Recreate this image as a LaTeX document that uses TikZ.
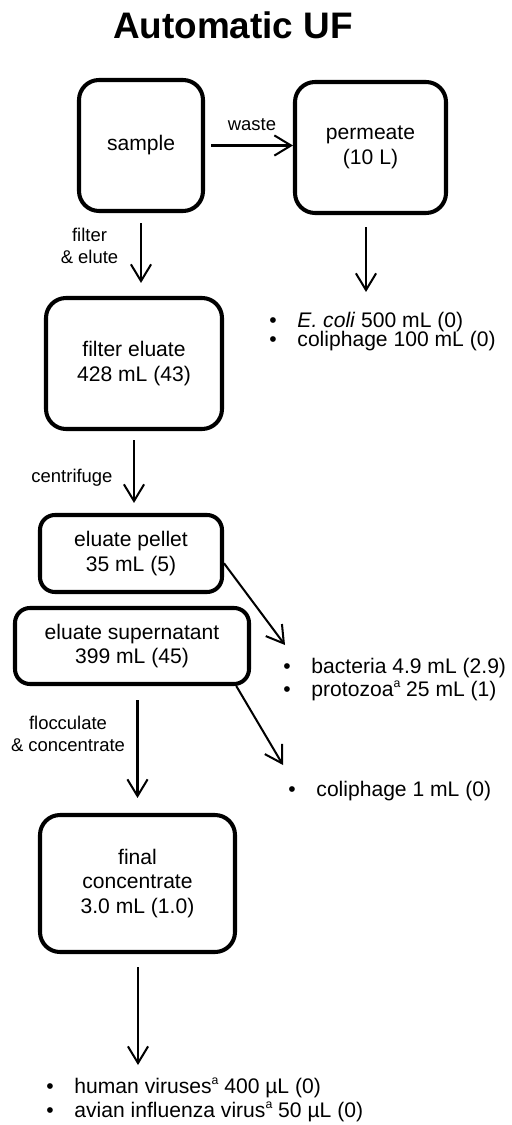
\documentclass[tikz,border=0pt]{standalone}
\usepackage{fontspec}
\setmainfont{Liberation Sans}
\usetikzlibrary{arrows.meta}
\newcommand{\itembullet}{\makebox[16pt][l]{\textbullet}}
\newcommand{\supa}{\raisebox{0.42em}{\fontsize{7}{7}\selectfont a}}
\tikzset{
  stage/.style={draw, line width=2.3pt, rounded corners=0.4cm, align=center,
    font=\fontsize{12}{14}\selectfont},
  flow/.style={-{Straight Barb[length=9.5pt,width=11.5pt]}, line width=1.15pt},
  steplabel/.style={align=center, font=\fontsize{10.5}{12.5}\selectfont},
  itemlist/.style={anchor=north west, align=left, inner sep=0pt,
    font=\fontsize{12}{13.2}\selectfont}
}
\begin{document}
\begin{tikzpicture}
\useasboundingbox (0,0) rectangle (10.22,-22.5);
\node[font=\bfseries\fontsize{21}{25}\selectfont] (title) at (4.66,-0.50) {Automatic UF};
\node[stage, minimum width=2.48cm, minimum height=2.62cm] (sample) at (2.82,-2.91) {sample};
\node[stage, minimum width=3.02cm, minimum height=2.62cm] (permeate) at (7.41,-2.95) {permeate\\(10 L)};
\node[stage, minimum width=3.52cm, minimum height=2.62cm] (eluate) at (2.68,-7.27) {filter eluate\\428 mL (43)};
\node[stage, minimum width=3.64cm, minimum height=1.54cm, rounded corners=0.3cm] (pellet) at (2.62,-11.07) {eluate pellet\\35 mL (5)};
\node[stage, minimum width=4.68cm, minimum height=1.52cm, rounded corners=0.3cm] (super) at (2.64,-12.92) {eluate supernatant\\399 mL (45)};
\node[stage, minimum width=3.9cm, minimum height=2.74cm] (final) at (2.75,-17.67) {final\\concentrate\\3.0 mL (1.0)};
\node[itemlist] (permlist) at (5.38,-6.23) {\itembullet\textit{E. coli} 500 mL (0)\\[-2.3pt]\itembullet coliphage 100 mL (0)};
\node[itemlist] (pelletlist) at (5.66,-13.15) {\itembullet bacteria 4.9 mL (2.9)\\\itembullet protozoa\supa{} 25 mL (1)};
\node[itemlist] (superlist) at (5.76,-15.61) {\itembullet coliphage 1 mL (0)};
\node[itemlist] (finallist) at (0.92,-21.56) {\itembullet human viruses\supa{} 400 µL (0)\\\itembullet avian influenza virus\supa{} 50 µL (0)};
\draw[flow, shorten <=0.12cm] (sample) -- (sample -| permeate.west);
\node[steplabel] (wastelabel) at (5.04,-2.50) {waste};
\draw[flow, shorten <=0.2cm, shorten >=0.26cm] (sample) -- (sample |- eluate.north);
\node[steplabel] (filterlabel) at (1.79,-4.92) {filter\\\& elute};
\coordinate (permtip) at (7.32,-5.84);
\draw[flow, shorten <=0.24cm] (permeate.south -| permtip) -- (permtip);
\draw[flow, shorten <=0.18cm, shorten >=0.2cm] (eluate) -- (eluate |- pellet.north);
\node[steplabel] (spinlabel) at (1.44,-9.56) {centrifuge};
\coordinate (pellettip) at (5.70,-12.90);
\draw[flow] (pellet.-6) -- (pellettip);
\coordinate (supertip) at (5.66,-15.30);
\draw[flow] (super.-21) -- (supertip);
\draw[flow, shorten <=0.28cm, shorten >=0.3cm] (final |- super.south) -- (final);
\node[steplabel] (flocclabel) at (1.36,-14.68) {flocculate\\\& concentrate};
\coordinate (finaltip) at (2.76,-21.30);
\draw[flow, shorten <=0.26cm] (final.south -| finaltip) -- (finaltip);
\end{tikzpicture}
\end{document}
